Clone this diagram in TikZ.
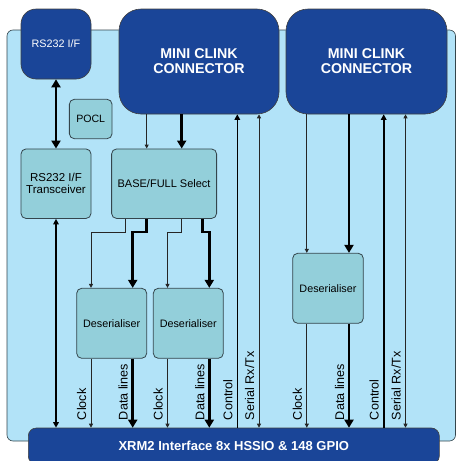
\documentclass[tikz,border=0pt]{standalone}
\usepackage{fontspec}
\setmainfont{Liberation Sans}
\usepackage{tikz}
\usetikzlibrary{positioning, arrows.meta, calc}

\definecolor{clinkblue}{HTML}{1A4598}
\definecolor{boardblue}{HTML}{B2E3F8}
\definecolor{blockteal}{HTML}{93CFDA}
\definecolor{edgegray}{HTML}{34454C}

\tikzset{
    conn/.style={draw=black!75, fill=clinkblue, text=white, rounded corners=#1,
        line width=0.6pt, align=center, inner sep=0pt},
    conn/.default=6,
    block/.style={draw=edgegray, fill=blockteal, rounded corners=5,
        line width=0.8pt, align=center, inner sep=0pt},
    thinbus/.style={black!85, line width=0.9pt, -{Triangle[length=4pt,width=4pt]}},
    fatbus/.style={black, line width=2.8pt, -{Triangle[length=8pt,width=9pt]}},
    ctrlbus/.style={black, line width=1.6pt, -{Triangle[length=5.5pt,width=5.5pt]}},
    serbus/.style={black!85, line width=0.9pt,
        {Triangle[length=4pt,width=4pt]}-{Triangle[length=4pt,width=4pt]}},
    siglabel/.style={rotate=90, anchor=base west, inner sep=0pt,
        font=\fontsize{12.6}{13}\selectfont}
}

% x positions of the buses
\def\busgrid{%
    \coordinate (xs1) at (125.7,0);
    \coordinate (xs2) at (146.7,0);
    \coordinate (xs3) at (181.7,0);
    \coordinate (xs4) at (202.7,0);
    \coordinate (xc1) at (91,0);
    \coordinate (xd1) at (132.7,0);
    \coordinate (xc2) at (167.5,0);
    \coordinate (xd2) at (209.3,0);
    \coordinate (xk1) at (237.3,0);
    \coordinate (xr1) at (259,0);
    \coordinate (xc3) at (306.8,0);
    \coordinate (xd3) at (349,0);
    \coordinate (xk2) at (383.7,0);
    \coordinate (xr2) at (405.5,0);
    \coordinate (jog) at (0,232);
}

\begin{document}
\begin{tikzpicture}[x=1pt, y=-1pt]
    \useasboundingbox (0,0) rectangle (456,461);
    \busgrid

    % board
    \draw[draw=edgegray, fill=boardblue, line width=0.6pt, rounded corners=6]
        (7,30) rectangle (455.5,441);

    % connectors
    \node[conn=15, minimum width=70, minimum height=70,
        font=\fontsize{10.8}{12}\selectfont] (rsif) at (56,44) {RS232 I/F};
    \node[conn=22, minimum width=160, minimum height=105,
        font=\bfseries\fontsize{14.2}{15}\selectfont] (clink1) at (199,61.5) {MINI CLINK\\CONNECTOR};
    \node[conn=22, minimum width=161, minimum height=105,
        font=\bfseries\fontsize{14.2}{15}\selectfont] (clink2) at (366.5,61.5) {MINI CLINK\\CONNECTOR};

    % blocks
    \node[block, minimum width=42.7, minimum height=39.4,
        font=\fontsize{10.6}{12}\selectfont] (pocl) at (90.7,119) {POCL};
    \node[block, minimum width=70, minimum height=69.5,
        font=\fontsize{11.5}{12}\selectfont] (trans) at (56,183.7) {RS232 I/F\\Transceiver};
    \node[block, minimum width=105, minimum height=69.5,
        font=\fontsize{11}{12}\selectfont] (sel) at (164.1,183.7) {BASE/FULL Select};
    \node[block, minimum width=70, minimum height=70,
        font=\fontsize{10.8}{12}\selectfont] (des1) at (111.7,323.3) {Deserialiser};
    \node[block, minimum width=70, minimum height=70,
        font=\fontsize{10.8}{12}\selectfont] (des2) at (188.3,323.3) {Deserialiser};
    \node[block, minimum width=70.6, minimum height=70,
        font=\fontsize{10.8}{12}\selectfont] (des3) at (328,288.3) {Deserialiser};

    % interface bar
    \node[conn=8, minimum width=411, minimum height=36,
        font=\bfseries\fontsize{13}{14}\selectfont] (xrm) at (233.8,446)
        {XRM2 Interface 8x HSSIO \& 148 GPIO};

    % rs232 path
    \draw[fatbus, {Triangle[length=8pt,width=9pt]}-{Triangle[length=8pt,width=9pt]}] (rsif) -- (trans);
    \draw[ctrlbus, {Triangle[length=5.5pt,width=5.5pt]}-{Triangle[length=5.5pt,width=5.5pt]}]
        (trans) -- (trans |- xrm.north);

    % first connector
    \draw[thinbus] (clink1.south -| xs2) -- (sel.north -| xs2);
    \draw[fatbus] (clink1.south -| xs3) -- (sel.north -| xs3);
    \draw[thinbus] (sel.south -| xs1) -- (xs1 |- jog) -| (des1.north -| xc1);
    \draw[fatbus] (sel.south -| xs2) -- (xs2 |- jog) -| (des1.north -| xd1);
    \draw[thinbus] (sel.south -| xs3) -- (xs3 |- jog) -| (des2.north -| xc2);
    \draw[fatbus] (sel.south -| xs4) -- (xs4 |- jog) -| (des2.north -| xd2);
    \draw[thinbus] (des1.south -| xc1) -- (xrm.north -| xc1);
    \draw[fatbus] (des1.south -| xd1) -- (xrm.north -| xd1);
    \draw[thinbus] (des2.south -| xc2) -- (xrm.north -| xc2);
    \draw[fatbus] (des2.south -| xd2) -- (xrm.north -| xd2);
    \draw[ctrlbus] (xrm.north -| xk1) -- (clink1.south -| xk1);
    \draw[serbus] (clink1.south -| xr1) -- (xrm.north -| xr1);

    % second connector
    \draw[thinbus] (clink2.south -| xc3) -- (des3.north -| xc3);
    \draw[fatbus] (clink2.south -| xd3) -- (des3.north -| xd3);
    \draw[thinbus] (des3.south -| xc3) -- (xrm.north -| xc3);
    \draw[fatbus] (des3.south -| xd3) -- (xrm.north -| xd3);
    \draw[ctrlbus] (xrm.north -| xk2) -- (clink2.south -| xk2);
    \draw[serbus] (clink2.south -| xr2) -- (xrm.north -| xr2);

    % signal labels
    \foreach \bus/\txt [count=\i] in {
        xc1/Clock, xd1/Data lines, xc2/Clock, xd2/Data lines,
        xk1/Control, xr1/{Serial Rx/Tx}, xc3/Clock, xd3/Data lines,
        xk2/Control, xr2/{Serial Rx/Tx}}{
        \node[siglabel] (lab\i) at ($(\bus |- xrm.north)+(-5,-7.5)$) {\txt};
    }
\end{tikzpicture}
\end{document}
